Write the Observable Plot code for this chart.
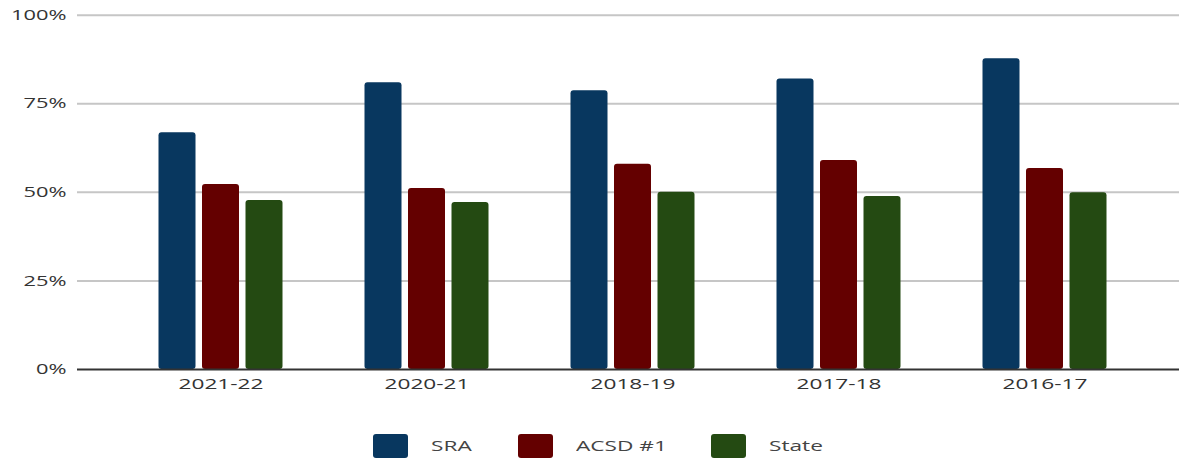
<!DOCTYPE html>
<html><head><meta charset="utf-8">
<script src="https://cdn.jsdelivr.net/npm/d3@7"></script>
<script src="https://cdn.jsdelivr.net/npm/@observablehq/plot@0.6"></script>
<style>
body{margin:0;background:#fff;font-family:"Open Sans",sans-serif;}
#chart svg{display:block}
#legend{display:flex;align-items:center;height:49px;margin-top:11px;padding-left:373px;box-sizing:border-box;}
.sw{width:35px;height:24px;border-radius:3px;margin-right:23px;flex:none}
.lb{display:inline-block;font-size:14.5px;color:#444;flex:none}
.lb span{display:inline-block;transform-origin:left center;white-space:nowrap}
</style></head><body>
<div id="chart"></div>
<div id="legend"></div>
<script>
const years = ["2021-22","2020-21","2018-19","2017-18","2016-17"];
const series = ["SRA","ACSD #1","State"];
const sra = [66.8, 80.9, 78.7, 82.0, 87.7];
const acsd = [52.2, 51.1, 57.9, 59.0, 56.7];
const state = [47.7, 47.1, 50.0, 48.8, 49.9];
const yTicks = [0, 25, 50, 75, 100];
const colors = ["#08375f", "#640000", "#244a12"];

const values = [sra, acsd, state];
const offsets = [-43.5, 0, 43.5];

const chart = Plot.plot({
  width: 1179,
  height: 410,
  marginLeft: 77,
  marginRight: 0,
  marginTop: 14.7,
  marginBottom: 41,
  style: {fontFamily: "'Open Sans', sans-serif", fontSize: "14.5px", color: "#333", background: "#fff"},
  x: {domain: years, range: [115.7, 1148.7], paddingInner: 0.8185, paddingOuter: 0.40925, align: 0.5, axis: null},
  y: {domain: [0, 100], axis: null},
  marks: [
    Plot.ruleY(yTicks.filter(t => t > 0), {stroke: "#c6c6c6", strokeWidth: 2}),
    ...values.map((v, i) => Plot.barY(
      years.map((yr, j) => ({year: yr, series: series[i], value: v[j]})),
      {x: "year", y: "value", fill: colors[i], dx: offsets[i], rx: 3}
    )),
    Plot.ruleY([0], {stroke: "#333", strokeWidth: 2}),
    Plot.axisX({tickSize: 0, tickPadding: 9, label: null, fontSize: 14.5}),
    Plot.axisY({ticks: yTicks, tickFormat: d => d + "%", tickSize: 0, tickPadding: 11, label: null, fontSize: 14.5})
  ]
});
document.getElementById("chart").appendChild(chart);

// horizontally stretched lettering, as in the reference
const texts = Array.from(chart.querySelectorAll("text"));
function factor(sample, target) {
  const t = texts.find(t => t.textContent === sample);
  return t ? target / t.getComputedTextLength() : 1.5;
}
const kx = factor("2021-22", 85);
const ky = factor("100%", 55.5);
texts.forEach(t => {
  const k = t.textContent.endsWith("%") ? ky : kx;
  const len = t.getComputedTextLength();
  t.setAttribute("textLength", len * k);
  t.setAttribute("lengthAdjust", "spacingAndGlyphs");
});

const labelWidths = [86.6, 135, 60];
const legend = document.getElementById("legend");
series.forEach((s, i) => {
  const sw = document.createElement("div");
  sw.className = "sw";
  sw.style.background = colors[i];
  legend.appendChild(sw);
  const lb = document.createElement("div");
  lb.className = "lb";
  lb.style.width = labelWidths[i] + "px";
  const sp = document.createElement("span");
  sp.textContent = s;
  lb.appendChild(sp);
  legend.appendChild(lb);
  sp.style.transform = "scaleX(" + kx + ")";
});
</script>
</body></html>
